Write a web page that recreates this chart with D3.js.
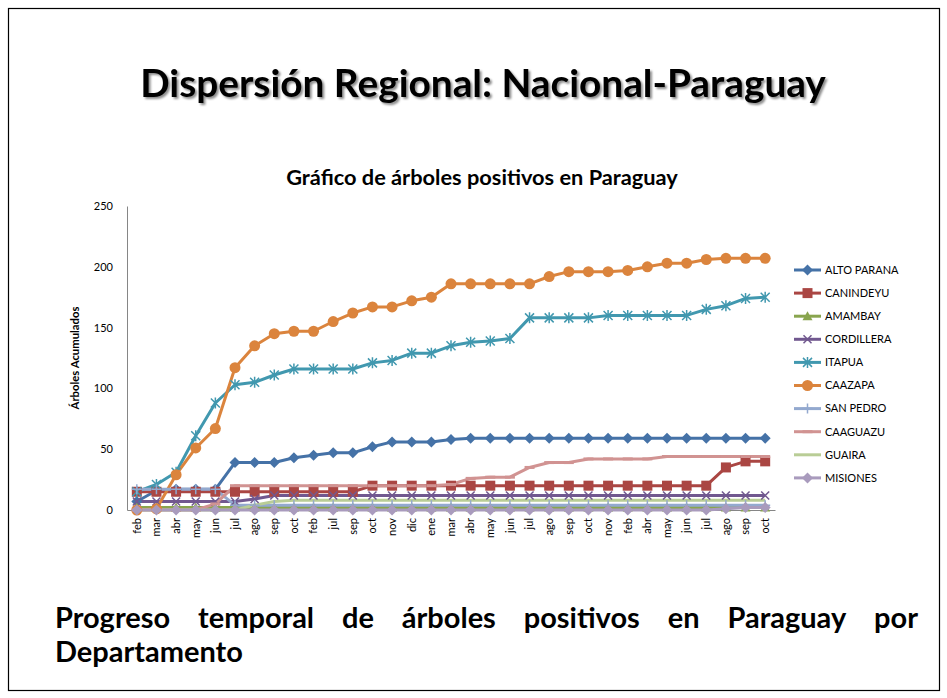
<!DOCTYPE html>
<html>
<head>
<meta charset="utf-8">
<script src="https://cdn.jsdelivr.net/npm/d3@7"></script>
<style>
body { margin: 0; background: #fff; }
text { font-family: Lato, "Open Sans", sans-serif; }
</style>
</head>
<body>
<div id="wrapper"></div>
<script>
// month labels on the x axis (they repeat across years)
const months = ["feb","mar","abr","may","jun","jul","ago","sep","oct","feb","jul","sep","oct","nov","dic","ene",
  "mar","abr","may","jun","jul","ago","sep","oct","nov","feb","abr","may","jun","jul","ago","sep","oct"];

const departamentos = ["ALTO PARANA","CANINDEYU","AMAMBAY","CORDILLERA","ITAPUA","CAAZAPA","SAN PEDRO","CAAGUAZU","GUAIRA","MISIONES"];

const altoParana = [7,16,17,17,17,39,39,39,43,45,47,47,52,56,56,56,58,59,59,59,59,59,59,59,59,59,59,59,59,59,59,59,59];
const canindeyu  = [15,15,15,15,15,15,15,15,15,15,15,15,20,20,20,20,20,20,20,20,20,20,20,20,20,20,20,20,20,20,35,40,40];
const amambay    = [2,2,2,2,2,2,2,2,2,2,2,2,2,2,2,2,2,2,2,2,2,2,2,2,2,2,2,2,2,2,2,2,2];
const cordillera = [7,7,7,7,7,7,9,12,12,12,12,12,12,12,12,12,12,12,12,12,12,12,12,12,12,12,12,12,12,12,12,12,12];
const itapua     = [15,21,31,61,88,103,105,111,116,116,116,116,121,123,129,129,135,138,139,141,158,158,158,158,160,160,160,160,160,165,168,174,175];
const caazapa    = [0,1,29,51,67,117,135,145,147,147,155,162,167,167,172,175,186,186,186,186,186,192,196,196,196,197,200,203,203,206,207,207,207];
const sanPedro   = [17,17,17,17,17,4,4,4,4,4,4,4,4,4,4,4,4,4,4,4,4,4,4,4,4,4,4,4,4,4,4,4,4];
const caaguazu   = [0,0,0,0,5,20,20,20,20,20,20,20,20,20,20,20,21,26,27,27,35,39,39,42,42,42,42,44,44,44,44,44,44];
const guaira      = [0,0,0,0,0,0,4,7,8,8,8,8,8,8,8,8,8,8,8,8,8,8,8,8,8,8,8,8,8,8,8,8,8];
const misiones   = [0,0,0,0,0,0,0,0,0,0,0,0,0,0,0,0,0,0,0,0,0,0,0,0,0,0,0,0,0,0,1,2,2];

const yTicks = [0,50,100,150,200,250];

function drawChart() {

/*step 1: canvas and slide frame*/
  const width = 947, height = 698;
  const svg = d3.select("#wrapper").append("svg")
    .attr("width", width)
    .attr("height", height);

  svg.append("rect")
    .attr("x", 8.5).attr("y", 8.5)
    .attr("width", 931).attr("height", 682)
    .attr("fill", "none").attr("stroke", "#000").attr("stroke-width", 1.2);

  // shadow for the slide title
  const shadow = svg.append("defs").append("filter")
    .attr("id", "shadow")
    .attr("x", "-5%").attr("y", "-20%").attr("width", "110%").attr("height", "140%");
  shadow.append("feDropShadow")
    .attr("dx", 2).attr("dy", 2).attr("stdDeviation", 0.8)
    .attr("flood-color", "#000").attr("flood-opacity", 0.45);

  // scale a text's font size so it spans the given width
  function fitWidth(sel, target) {
    const fsNow = +sel.attr("font-size");
    sel.attr("font-size", fsNow * target / sel.node().getComputedTextLength());
    return +sel.attr("font-size");
  }

/*step 2: slide title*/
  const titleText = svg.append("text")
    .attr("x", 483).attr("y", 97)
    .attr("text-anchor", "middle")
    .attr("font-weight", 700).attr("font-size", 34)
    .attr("fill", "#000")
    .attr("filter", "url(#shadow)")
    .text("Dispersión Regional: Nacional-Paraguay");
  fitWidth(titleText, 686);

/*step 3: chart title*/
  const chartTitle = svg.append("text")
    .attr("x", 482).attr("y", 185)
    .attr("text-anchor", "middle")
    .attr("font-weight", 700).attr("font-size", 16)
    .text("Gráfico de árboles positivos en Paraguay");
  fitWidth(chartTitle, 392);

/*step 4: scales and axes*/
  const x = d3.scaleBand()
    .domain(d3.range(months.length))
    .range([127, 775]);
  const xc = function (i) { return x(i) + x.bandwidth() / 2; };

  const y = d3.scaleLinear()
    .domain([0, 250])
    .range([510, 206]);

  const yAxis = svg.append("g")
    .attr("transform", "translate(127,0)")
    .call(d3.axisLeft(y).tickValues(yTicks).tickSize(0).tickPadding(14));
  yAxis.select(".domain").attr("stroke", "#868686");
  yAxis.selectAll("text").attr("font-size", 11).attr("fill", "#000")
    .style("font-family", "Lato, sans-serif");

  const xAxis = svg.append("g")
    .attr("transform", "translate(0,510)")
    .call(d3.axisBottom(x).tickSize(0).tickFormat(function (i) { return months[i]; }));
  xAxis.select(".domain").attr("stroke", "#868686");
  xAxis.selectAll("text")
    .attr("font-size", 11).attr("fill", "#000")
    .style("font-family", "Lato, sans-serif")
    .attr("transform", "rotate(-90)")
    .attr("text-anchor", "end")
    .attr("x", -8).attr("y", 0).attr("dy", "0.35em");

  const yTitle = svg.append("text")
    .attr("transform", "translate(79,358) rotate(-90)")
    .attr("text-anchor", "middle")
    .attr("font-weight", 700).attr("font-size", 9.5)
    .text("Árboles Acumulados");
  fitWidth(yTitle, 103);

/*step 5: series, markers and colours*/
  const seriesValues = [altoParana, canindeyu, amambay, cordillera, itapua, caazapa, sanPedro, caaguazu, guaira, misiones];
  const colors = ["#4572A7","#AA4643","#89A54E","#71588F","#4198AF","#DB843D","#93A9CF","#D19392","#B9CD96","#A99BBD"];
  const markers = ["diamond","square","triangle","x","asterisk","circle","plus","dash","none","diamond"];

  const series = departamentos.map(function (name, k) {
    return { name: name, values: seriesValues[k], color: colors[k], marker: markers[k] };
  });

  function markerPath(type) {
    if (type === "diamond") return "M0,-5.5L5.5,0L0,5.5L-5.5,0Z";
    if (type === "square") return "M-5,-5H5V5H-5Z";
    if (type === "triangle") return "M0,-5L5,4L-5,4Z";
    if (type === "x") return "M-4,-4L4,4M-4,4L4,-4";
    if (type === "asterisk") return "M-4.5,-4.5L4.5,4.5M-4.5,4.5L4.5,-4.5M0,-5.5V5.5";
    if (type === "plus") return "M-5,0H5M0,-5V5";
    if (type === "dash") return "M-5,-1.5H5V1.5H-5Z";
    return "";
  }
  function drawMarker(g, s, px, py) {
    if (s.marker === "none") return;
    if (s.marker === "circle") {
      g.append("circle").attr("cx", px).attr("cy", py).attr("r", 5.5).attr("fill", s.color);
      return;
    }
    const stroked = (s.marker === "x" || s.marker === "asterisk" || s.marker === "plus");
    g.append("path")
      .attr("transform", "translate(" + px + "," + py + ")")
      .attr("d", markerPath(s.marker))
      .attr("fill", stroked ? "none" : s.color)
      .attr("stroke", stroked ? s.color : "none")
      .attr("stroke-width", 1.5);
  }

  const line = d3.line()
    .x(function (d, i) { return xc(i); })
    .y(function (d) { return y(d); });

  // all lines first, then all markers
  svg.append("g").selectAll("path")
    .data(series)
    .enter()
    .append("path")
    .attr("d", function (d) { return line(d.values); })
    .attr("fill", "none")
    .attr("stroke", function (d) { return d.color; })
    .attr("stroke-width", 3)
    .attr("stroke-linejoin", "round");

  const markerLayer = svg.append("g");
  series.forEach(function (s) {
    s.values.forEach(function (v, i) {
      drawMarker(markerLayer, s, xc(i), y(v));
    });
  });

/*step 6: legend*/
  const legend = svg.append("g");
  series.forEach(function (s, k) {
    const ly = 270 + k * 23.1;
    legend.append("line")
      .attr("x1", 794).attr("x2", 821).attr("y1", ly).attr("y2", ly)
      .attr("stroke", s.color).attr("stroke-width", 3);
    drawMarker(legend, s, 807.5, ly);
    legend.append("text")
      .attr("x", 825).attr("y", ly).attr("dy", "0.35em")
      .attr("font-size", 11)
      .text(s.name);
  });

/*step 7: justified caption under the chart*/
  const lastLine = svg.append("text")
    .attr("x", 55).attr("y", 662)
    .attr("font-size", 22.5).attr("font-weight", 700)
    .text("Departamento");
  const capSize = fitWidth(lastLine, 188);

  const words = "Progreso temporal de árboles positivos en Paraguay por".split(" ");
  const capLine = svg.append("g");
  const widths = words.map(function (w) {
    const t = capLine.append("text").attr("font-size", capSize).attr("font-weight", 700).text(w);
    const wd = t.node().getComputedTextLength();
    t.remove();
    return wd;
  });
  const gap = (918 - 55 - d3.sum(widths)) / (words.length - 1);
  let cx = 55;
  words.forEach(function (w, i) {
    capLine.append("text")
      .attr("x", cx).attr("y", 628)
      .attr("font-size", capSize).attr("font-weight", 700)
      .text(w);
    cx += widths[i] + gap;
  });
}
drawChart();
</script>
</body>
</html>
